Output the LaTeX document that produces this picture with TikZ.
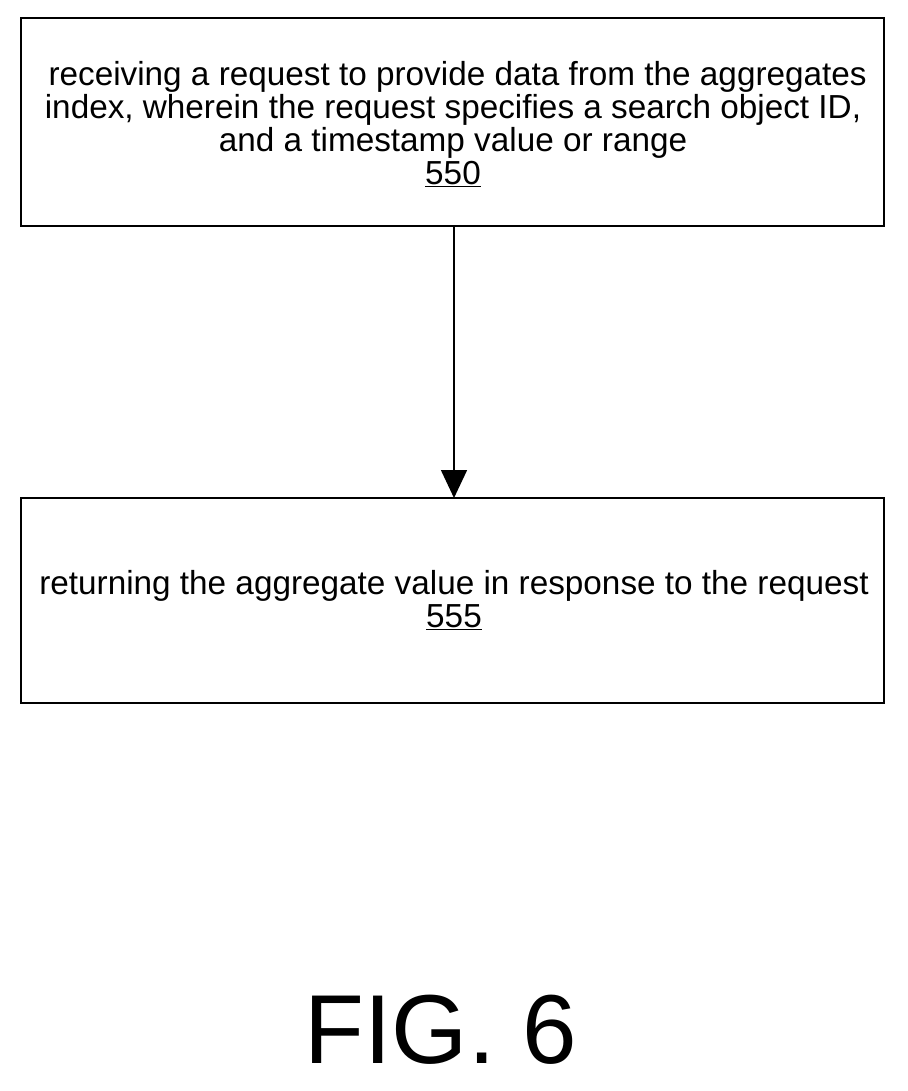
\documentclass[tikz,border=0pt]{standalone}
\usepackage{fontspec}
\setmainfont{Liberation Sans}
\usetikzlibrary{arrows.meta}
\begin{document}
\begin{tikzpicture}[x=1pt,y=-1pt,
  box/.style={draw,line width=1.6pt},
  lbl/.style={font=\fontsize{33.3}{33}\selectfont,align=center,anchor=center}]
\useasboundingbox (0,0) rectangle (907,1091);
\draw[box] (21,18) rectangle (884,226);
\draw[box] (21,498) rectangle (884,703);
\coordinate (a) at (454,226);
\coordinate (b) at (454,498);
\node[lbl] (t1) at (453,124) {\ receiving a request to provide data from the aggregates\\index, wherein the request specifies a search object ID,\\and a timestamp value or range\\\underline{550}};
\node[lbl] (t2) at (454,600) {returning the aggregate value in response to the request\\\underline{555}};
\draw[line width=1.6pt,-{Triangle[length=28pt,width=26pt]}] (a) -- (b);
\node[font=\fontsize{98}{100}\selectfont] (fig) at (441,1030) {FIG. 6};
\end{tikzpicture}
\end{document}
